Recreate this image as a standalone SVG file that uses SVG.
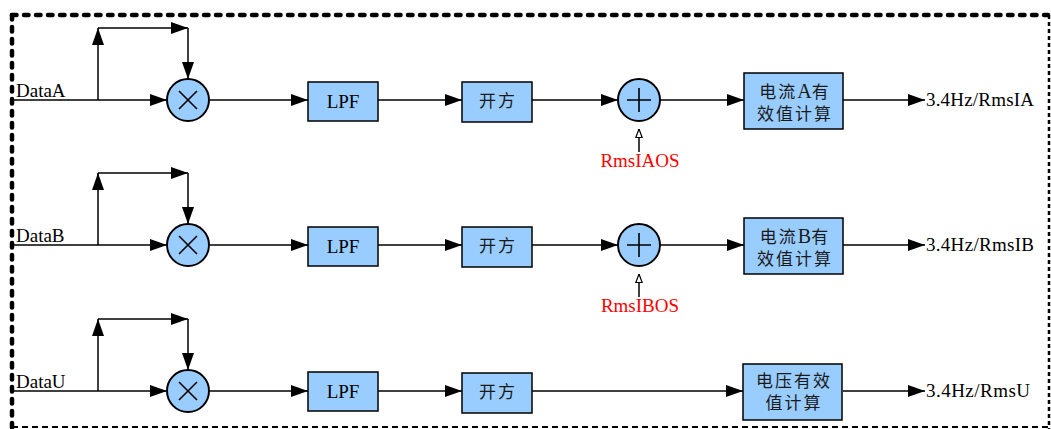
<svg xmlns="http://www.w3.org/2000/svg" width="1051" height="429" viewBox="0 0 1051 429">
<style>
.bx{fill:#99ccff;stroke:#000;stroke-width:1.5}
.cr{fill:#99ccff;stroke:#000;stroke-width:2}
.sym{stroke:#000;stroke-width:1.6;fill:none}
.ln{stroke:#000;stroke-width:1.5;fill:none}
.arr{marker-end:url(#ah)}
.t{font-family:"Liberation Serif","Noto Sans CJK SC",serif;font-size:19px;fill:#000}
.c{font-family:"Liberation Serif","Noto Sans CJK SC",serif;font-size:17px;letter-spacing:2px;fill:#1a1a1a;text-anchor:middle}
.big{font-size:20px;letter-spacing:0px}
.r{font-family:"Liberation Serif",serif;font-size:19px;fill:#ff0000;text-anchor:middle}
</style>
<defs>
<marker id="ah" viewBox="0 0 17 12" refX="17" refY="6" markerWidth="17" markerHeight="12" markerUnits="userSpaceOnUse" orient="auto">
<path d="M0,0 L17,6 L0,12 z" fill="#000"/>
</marker>
<marker id="oh" viewBox="0 0 10 8" refX="9.5" refY="4" markerWidth="10" markerHeight="8" markerUnits="userSpaceOnUse" orient="auto">
<path d="M1,0.8 L9.5,4 L1,7.2 z" fill="#fff" stroke="#000" stroke-width="1.2"/>
</marker>
</defs>
<rect width="1051" height="429" fill="#fff"/>
<g id="border">
<line x1="12" y1="15" x2="1048" y2="15" stroke="#000" stroke-width="4.5" stroke-dasharray="4.5 7.5" stroke-linecap="round"/>
<line x1="12" y1="15" x2="12" y2="429" stroke="#000" stroke-width="4.5" stroke-dasharray="4.5 7.5" stroke-linecap="round"/>
<line x1="1049" y1="15" x2="1049" y2="429" stroke="#000" stroke-width="2.5" stroke-dasharray="4 3"/>
<line x1="12" y1="427" x2="1049" y2="427" stroke="#000" stroke-width="1.8" stroke-dasharray="6 4"/>
</g>
<g id="connectors">
<path class="ln arr" d="M14,100 H167"/>
<path class="ln arr" d="M98,100 V28"/>
<path class="ln arr" d="M98,28 H188"/>
<path class="ln arr" d="M188,28 V79"/>
<path class="ln arr" d="M210,100 H308"/>
<path class="ln arr" d="M378,100 H462"/>
<path class="ln arr" d="M532,100 H618"/>
<path class="ln arr" d="M660,100 H744"/>
<path class="ln" d="M639,152 V129" marker-end="url(#oh)"/>
<path class="ln arr" d="M843,100 H925"/>
<path class="ln arr" d="M14,245 H167"/>
<path class="ln arr" d="M98,245 V173"/>
<path class="ln arr" d="M98,173 H188"/>
<path class="ln arr" d="M188,173 V224"/>
<path class="ln arr" d="M210,245 H308"/>
<path class="ln arr" d="M378,245 H462"/>
<path class="ln arr" d="M532,245 H618"/>
<path class="ln arr" d="M660,245 H744"/>
<path class="ln" d="M639,297 V274" marker-end="url(#oh)"/>
<path class="ln arr" d="M843,245 H925"/>
<path class="ln arr" d="M14,391 H167"/>
<path class="ln arr" d="M98,391 V319"/>
<path class="ln arr" d="M98,319 H188"/>
<path class="ln arr" d="M188,319 V370"/>
<path class="ln arr" d="M210,391 H308"/>
<path class="ln arr" d="M378,391 H462"/>
<path class="ln arr" d="M532,391 H743"/>
<path class="ln arr" d="M843,391 H925"/>
</g>
<g id="labels">
<text class="t" x="16" y="97">DataA</text>
<text class="t" x="16" y="242">DataB</text>
<text class="t" x="16" y="388">DataU</text>
<text class="t" x="926" y="106" textLength="108">3.4Hz/RmsIA</text>
<text class="t" x="926" y="251" textLength="108">3.4Hz/RmsIB</text>
<text class="t" x="926" y="397" textLength="104">3.4Hz/RmsU</text>
<text class="r" x="640" y="167">RmsIAOS</text>
<text class="r" x="640" y="312">RmsIBOS</text>
</g>
<g id="mulA"><circle class="cr" cx="188" cy="100" r="21"/><path class="sym" d="M179,91 L197,109 M197,91 L179,109"/></g>
<g id="mulB"><circle class="cr" cx="188" cy="245" r="21"/><path class="sym" d="M179,236 L197,254 M197,236 L179,254"/></g>
<g id="mulU"><circle class="cr" cx="188" cy="391" r="21"/><path class="sym" d="M179,382 L197,400 M197,382 L179,400"/></g>
<g id="lpfA"><rect class="bx" x="308" y="82" width="70" height="39"/><text class="t" x="343" y="108" text-anchor="middle">LPF</text></g>
<g id="lpfB"><rect class="bx" x="308" y="227" width="70" height="39"/><text class="t" x="343" y="253" text-anchor="middle">LPF</text></g>
<g id="lpfU"><rect class="bx" x="308" y="372" width="70" height="39"/><text class="t" x="343" y="398" text-anchor="middle">LPF</text></g>
<g id="sqrtA"><rect class="bx" x="462" y="82" width="70" height="40"/><text class="c" x="498" y="107">开方</text></g>
<g id="sqrtB"><rect class="bx" x="462" y="227" width="70" height="40"/><text class="c" x="498" y="252">开方</text></g>
<g id="sqrtU"><rect class="bx" x="462" y="373" width="70" height="40"/><text class="c" x="498" y="398">开方</text></g>
<g id="addA"><circle class="cr" cx="639" cy="100" r="21"/><path class="sym" d="M639,88 V112 M627,100 H651" stroke-width="2.2"/></g>
<g id="addB"><circle class="cr" cx="639" cy="245" r="21"/><path class="sym" d="M639,233 V257 M627,245 H651" stroke-width="2.2"/></g>
<g id="rmsA"><rect class="bx" x="744" y="73" width="99" height="56"/><text class="c" x="795" y="98">电流<tspan class="big">A</tspan>有</text><text class="c" x="795" y="120">效值计算</text></g>
<g id="rmsB"><rect class="bx" x="744" y="218" width="99" height="56"/><text class="c" x="795" y="243">电流<tspan class="big">B</tspan>有</text><text class="c" x="795" y="265">效值计算</text></g>
<g id="rmsU"><rect class="bx" x="743" y="364" width="99" height="56"/><text class="c" x="794" y="387">电压有效</text><text class="c" x="794" y="409">值计算</text></g>
</svg>
